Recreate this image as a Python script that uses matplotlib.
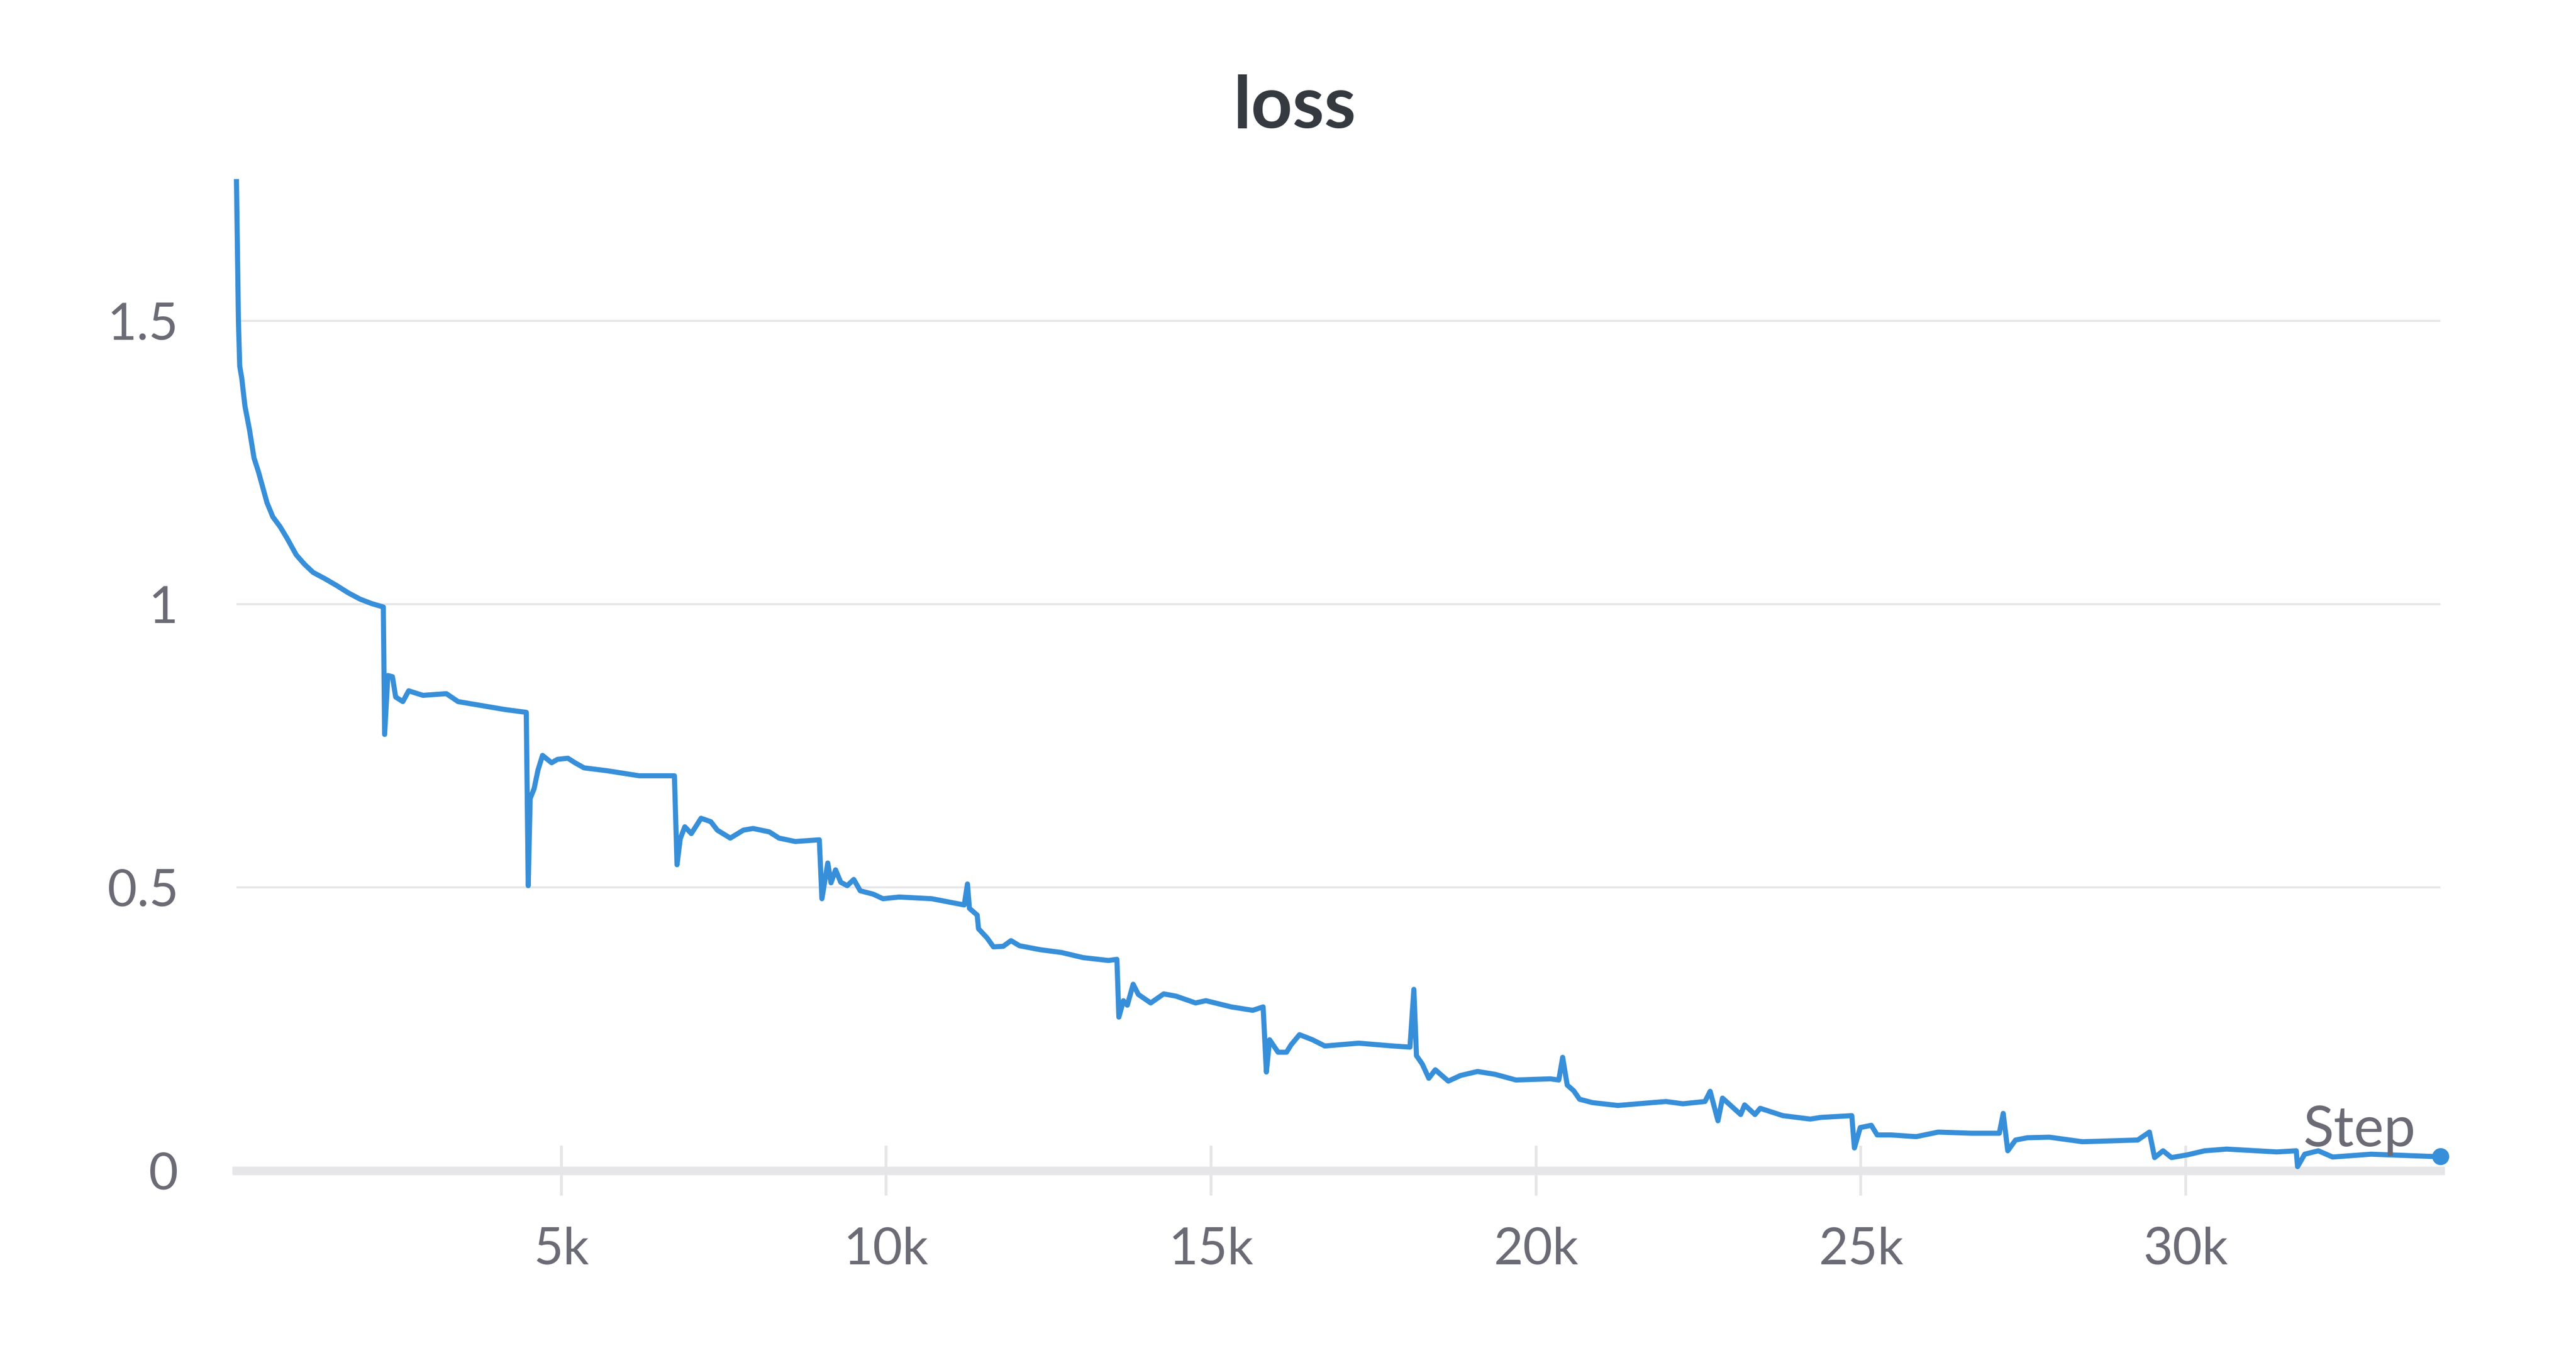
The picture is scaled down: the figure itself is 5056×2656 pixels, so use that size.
import matplotlib
matplotlib.use("Agg")
import matplotlib.pyplot as plt
from matplotlib.ticker import FixedLocator, FuncFormatter

# loss curve (step in thousands, loss value)
STEP_K = [
    0.00, 0.03, 0.05, 0.08, 0.13, 0.20, 0.27, 0.34, 0.40, 0.47, 0.56, 0.67,
    0.78, 0.92, 1.05, 1.18, 1.36, 1.54, 1.72, 1.90, 2.08, 2.26,
    2.28, 2.33, 2.40, 2.45, 2.56, 2.65, 2.87, 3.23, 3.41, 3.77, 4.13, 4.46,
    4.49, 4.52, 4.58, 4.64, 4.71, 4.85, 4.94, 5.10, 5.21, 5.35, 5.70, 6.20,
    6.65, 6.74,
    6.78, 6.83, 6.90, 7.00, 7.15, 7.30, 7.40, 7.60, 7.80, 7.95, 8.20, 8.35,
    8.60, 8.97,
    9.01, 9.10, 9.15, 9.22, 9.30, 9.40, 9.50, 9.60, 9.80, 9.95, 10.2, 10.7,
    11.2, 11.25, 11.28, 11.40, 11.42, 11.55, 11.65, 11.80, 11.92, 12.05,
    12.37, 12.70, 13.03, 13.42, 13.55,
    13.58, 13.65, 13.71, 13.80, 13.88, 14.07, 14.27, 14.46, 14.76, 14.92,
    15.31, 15.64, 15.80,
    15.85, 15.90, 16.03, 16.16, 16.23, 16.36, 16.56, 16.75, 17.27, 17.80,
    18.06, 18.12, 18.16, 18.25, 18.35, 18.45, 18.65, 18.84, 19.10, 19.37,
    19.69, 20.22, 20.35, 20.41, 20.48, 20.58, 20.67, 20.87, 21.26, 21.78,
    22.00, 22.26, 22.60, 22.68, 22.80, 22.87, 23.15, 23.21, 23.37, 23.45,
    23.80, 24.22, 24.39, 24.86,
    24.90, 24.99, 25.16, 25.25, 25.46, 25.85, 26.19, 26.70, 27.13, 27.19,
    27.26, 27.38, 27.56, 27.90, 28.41, 29.26, 29.44, 29.52, 29.65, 29.78,
    30.03, 30.29, 30.63, 31.40, 31.70, 31.72, 31.83, 32.04, 32.26, 32.85,
    33.79, 33.92,
]
LOSS = [
    1.746, 1.50, 1.42, 1.40, 1.35, 1.308, 1.258, 1.233, 1.208, 1.179, 1.154, 1.137,
    1.116, 1.087, 1.070, 1.056, 1.045, 1.033, 1.020, 1.009, 1.001, 0.995,
    0.770, 0.874, 0.872, 0.836, 0.828, 0.847, 0.839, 0.842, 0.828, 0.821, 0.814, 0.809,
    0.503, 0.657, 0.674, 0.707, 0.733, 0.720, 0.726, 0.728, 0.720, 0.711, 0.706, 0.697,
    0.697, 0.697,
    0.540, 0.586, 0.607, 0.595, 0.622, 0.616, 0.601, 0.587, 0.601, 0.604, 0.598, 0.587,
    0.581, 0.584,
    0.480, 0.543, 0.508, 0.531, 0.509, 0.503, 0.514, 0.494, 0.488, 0.480, 0.483, 0.480,
    0.469, 0.506, 0.463, 0.451, 0.427, 0.411, 0.395, 0.396, 0.406, 0.397,
    0.390, 0.385, 0.376, 0.371, 0.373,
    0.271, 0.300, 0.292, 0.329, 0.311, 0.296, 0.312, 0.308, 0.296, 0.300,
    0.289, 0.283, 0.289,
    0.174, 0.231, 0.209, 0.209, 0.222, 0.240, 0.231, 0.220, 0.225, 0.220,
    0.218, 0.320, 0.203, 0.188, 0.163, 0.178, 0.158, 0.168, 0.175, 0.170,
    0.160, 0.162, 0.160, 0.200, 0.151, 0.141, 0.126, 0.120, 0.115, 0.120,
    0.122, 0.118, 0.122, 0.140, 0.088, 0.128, 0.099, 0.116, 0.099, 0.110,
    0.097, 0.091, 0.094, 0.097,
    0.040, 0.076, 0.080, 0.063, 0.063, 0.060, 0.068, 0.066, 0.066, 0.101,
    0.035, 0.054, 0.058, 0.059, 0.051, 0.054, 0.068, 0.023, 0.035, 0.023,
    0.028, 0.035, 0.038, 0.033, 0.035, 0.007, 0.029, 0.035, 0.024, 0.029,
    0.025, 0.025,
]

X_TICKS = [5000, 10000, 15000, 20000, 25000, 30000]
Y_TICKS = [0, 0.5, 1, 1.5]
Y_TICK_LABELS = ["0", "0.5", "1", "1.5"]

LINE = "#378fd9"
GRID = "#e6e6e9"
TEXT = "#6b6b76"

plt.rcParams["font.family"] = ["Lato", "DejaVu Sans"]

steps = [s * 1000 for s in STEP_K]

fig = plt.figure(figsize=(25.28, 13.28), dpi=200)
ax = fig.add_axes([0.0918, 0.1348, 0.8556, 0.731])

ax.plot(steps, LOSS, color=LINE, lw=3.6, solid_joinstyle="round", zorder=3, clip_on=False)
ax.plot(steps[-1], LOSS[-1], "o", color=LINE, ms=11, zorder=4, clip_on=False)

ax.set_xlim(0, steps[-1])
ax.set_ylim(0, 1.746)

for s in ["left", "right", "top"]:
    ax.spines[s].set_visible(False)
ax.spines["bottom"].set_color(GRID)
ax.spines["bottom"].set_linewidth(6)
ax.spines["bottom"].set_zorder(1)

ax.yaxis.set_major_locator(FixedLocator(Y_TICKS))
ax.set_yticklabels(Y_TICK_LABELS)
ax.xaxis.set_major_locator(FixedLocator(X_TICKS))
ax.xaxis.set_major_formatter(FuncFormatter(lambda v, p: f"{int(v / 1000)}k"))

ax.tick_params(axis="y", length=0, pad=41, labelsize=36, labelcolor=TEXT)
ax.tick_params(axis="x", direction="inout", length=35, width=2, color=GRID,
               pad=22, labelsize=36, labelcolor=TEXT)

for y in Y_TICKS[1:]:
    ax.axhline(y, color=GRID, lw=1.4, zorder=0)

ax.text(33540, 0.043, "Step", ha="right", va="baseline", fontsize=40, color=TEXT, zorder=5)

fig.text(0.5026, 0.9206, "loss", ha="center", va="center", fontsize=51,
         fontweight="bold", color="#343a40")

fig.savefig("out.png", dpi=200, facecolor="white")
